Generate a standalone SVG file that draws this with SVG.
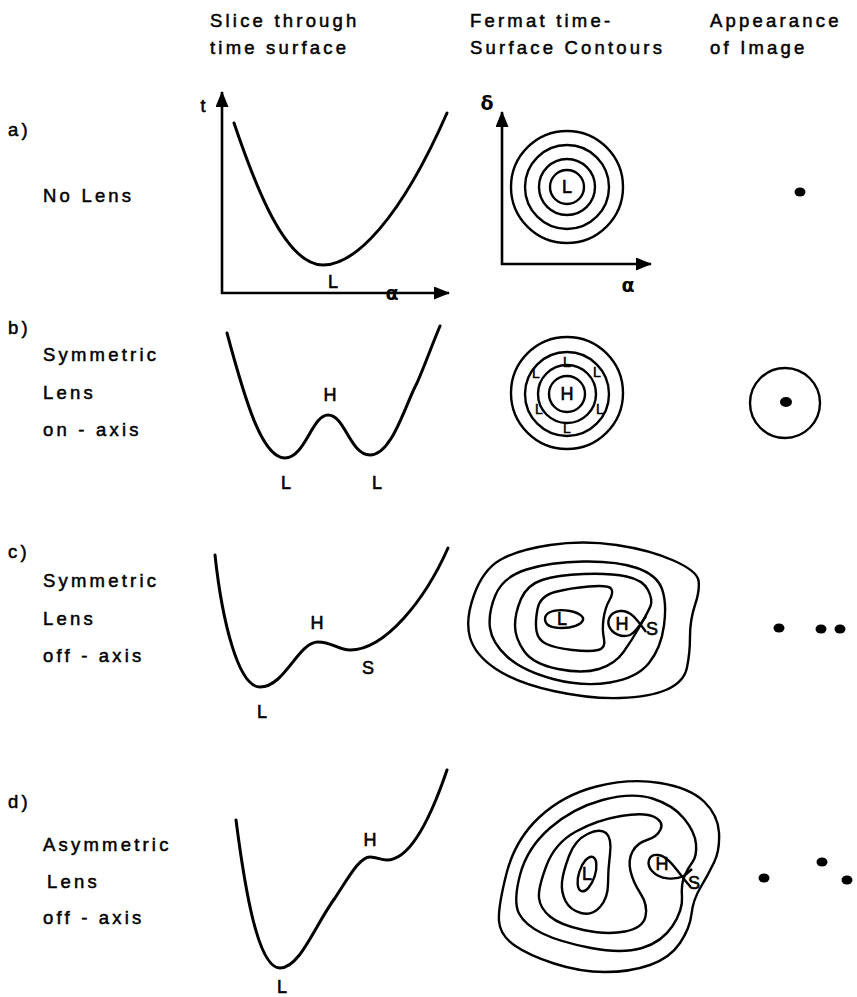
<svg xmlns="http://www.w3.org/2000/svg" width="857" height="997" viewBox="0 0 857 997">
<style>
.t{font-family:"Liberation Sans",Arial,sans-serif;font-size:18.5px;letter-spacing:3.2px;fill:#000;stroke:#000;stroke-width:0.5}
.m{font-family:"Liberation Sans",Arial,sans-serif;font-size:18px;fill:#000;stroke:#000;stroke-width:0.6;text-anchor:middle}
.sm{font-family:"Liberation Sans",Arial,sans-serif;font-size:14px;fill:#000;stroke:#000;stroke-width:0.5;text-anchor:middle}
.g{font-family:"DejaVu Sans","Liberation Sans",sans-serif;font-size:19px;font-weight:bold;fill:#000;text-anchor:middle}
.c{fill:none;stroke:#000;stroke-width:3;stroke-linecap:round;stroke-linejoin:round}
.k{fill:none;stroke:#000;stroke-width:2.4;stroke-linejoin:round}
.ax{fill:none;stroke:#000;stroke-width:2.6}
.dot{fill:#000}
</style>
<defs>
<marker id="arr" markerUnits="userSpaceOnUse" markerWidth="16" markerHeight="14" refX="15" refY="6.5" orient="auto">
<path d="M0,0 L16,6.5 L0,13 Z" fill="#000"/>
</marker>
</defs>
<rect width="857" height="997" fill="#fff"/>

<g id="headers">
<text class="t" x="210" y="27">Slice through</text>
<text class="t" x="210" y="54">time surface</text>
<text class="t" x="470" y="27">Fermat time-</text>
<text class="t" x="470" y="54">Surface Contours</text>
<text class="t" x="710" y="27">Appearance</text>
<text class="t" x="710" y="54">of Image</text>
</g>

<g id="row-labels">
<text class="t" x="8" y="136">a)</text>
<text class="t" x="43" y="202">No Lens</text>
<text class="t" x="8" y="334">b)</text>
<text class="t" x="43" y="361">Symmetric</text>
<text class="t" x="43" y="399">Lens</text>
<text class="t" x="43" y="436">on - axis</text>
<text class="t" x="8" y="558">c)</text>
<text class="t" x="43" y="587">Symmetric</text>
<text class="t" x="43" y="625">Lens</text>
<text class="t" x="43" y="662">off - axis</text>
<text class="t" x="8" y="808">d)</text>
<text class="t" x="43" y="851">Asymmetric</text>
<text class="t" x="47" y="888">Lens</text>
<text class="t" x="43" y="924">off - axis</text>
</g>

<g id="a-slice">
<line class="ax" x1="222" y1="294" x2="222" y2="92" marker-end="url(#arr)"/>
<line class="ax" x1="221" y1="293" x2="449" y2="293" marker-end="url(#arr)"/>
<text class="m" x="203" y="112">t</text>
<text class="g" x="392" y="300">α</text>
<path class="c" d="M234,123 C255,185 285,265 323,265 C355,265 400,220 447,113"/>
<text class="m" x="333" y="288">L</text>
</g>

<g id="a-contours">
<line class="ax" x1="502" y1="265" x2="502" y2="112" marker-end="url(#arr)"/>
<line class="ax" x1="501" y1="264" x2="651" y2="264" marker-end="url(#arr)"/>
<text class="g" x="487" y="110">δ</text>
<text class="g" x="628" y="292">α</text>
<circle class="k" cx="567" cy="187" r="56"/>
<circle class="k" cx="567" cy="187" r="42"/>
<circle class="k" cx="567" cy="187" r="28"/>
<circle class="k" cx="567" cy="187" r="17"/>
<text class="m" x="567" y="193">L</text>
</g>

<g id="a-image">
<ellipse class="dot" cx="800" cy="192" rx="5.5" ry="4.5"/>
</g>

<g id="b-slice">
<path class="c" d="M227,333 C245,400 262,458 285,458 C305,458 312,415 328,415 C345,415 350,455 370,455 C392,455 405,405 417,383 C425,365 430,350 440,326"/>
<text class="m" x="330" y="401">H</text>
<text class="m" x="286" y="489">L</text>
<text class="m" x="377" y="489">L</text>
</g>

<g id="b-contours">
<circle class="k" cx="567" cy="393" r="56"/>
<circle class="k" cx="567" cy="394" r="42"/>
<circle class="k" cx="567" cy="394" r="29"/>
<circle class="k" cx="567" cy="394" r="18"/>
<text class="m" x="567" y="400">H</text>
<text class="sm" x="567" y="367">L</text>
<text class="sm" x="536" y="378">L</text>
<text class="sm" x="597" y="377">L</text>
<text class="sm" x="539" y="414">L</text>
<text class="sm" x="600" y="414">L</text>
<text class="sm" x="567" y="433">L</text>
</g>

<g id="b-image">
<circle class="k" cx="785" cy="403" r="35"/>
<ellipse class="dot" cx="786" cy="402" rx="6" ry="5"/>
</g>

<g id="c-slice">
<path class="c" d="M215,555 C222,620 238,687 260,687 C285,687 298,642 318,642 C332,642 338,650 350,650 C385,650 425,600 448,548"/>
<text class="m" x="317" y="629">H</text>
<text class="m" x="368" y="674">S</text>
<text class="m" x="262" y="718">L</text>
</g>

<g id="c-contours">
<path class="k" d="M474,595 Q483,570 500,560 Q517,550 550,545 Q583,540 616.5,545 Q650,550 673.5,560.5 Q697,571 698.5,580.5 Q700,590 695,605 Q690,620 690,636.5 Q690,653 687,667.5 Q684,682 667,689.5 Q650,697 620,698 Q590,699 553.5,691 Q517,683 496,669 Q475,655 470,637.5 Q465,620 474,595 Z"/>
<path class="k" d="M495.5,595 Q503,577 526.5,569.5 Q550,562 583.5,561.5 Q617,561 637,568 Q657,575 662,589 Q667,603 664,625.5 Q661,648 649,663 Q637,678 610,682.5 Q583,687 553,679 Q523,671 507.5,657 Q492,643 490,628 Q488,613 495.5,595 Z"/>
<path class="k" d="M521,599 Q527,585 542,580 Q557,575 583.5,574 Q610,573 626.5,576.5 Q643,580 648,590 Q653,600 650.5,606 Q648,612 640,626 Q632,640 623.5,652 Q615,664 599,669 Q583,674 558,669 Q533,664 524,651 Q515,638 515,625.5 Q515,613 521,599 Z"/>
<path class="k" d="M537.5,609 Q540,596 555,592 Q570,588 589,586.5 Q608,585 611,588.5 Q614,592 609.5,600 Q605,608 603.5,619 Q602,630 604,639 Q606,648 598,650 Q590,652 572.5,650 Q555,648 546.5,644 Q538,640 536.5,631 Q535,622 537.5,609 Z"/>
<path class="k" d="M545,619 C545,610 560,609 570,611 C580,613 584,617 583,620 C581,625 572,628 562,628 C551,628 545,625 545,619 Z"/>
<path class="k" d="M646,632 C636,618 630,610 620,611 C610,612 607,620 609,626 C612,634 622,638 630,635 C636,632 640,625 646,616"/>
<text class="m" x="562" y="625">L</text>
<text class="m" x="622" y="630">H</text>
<text class="m" x="652" y="635">S</text>
</g>

<g id="c-image">
<ellipse class="dot" cx="779" cy="628" rx="5.5" ry="4.5"/>
<ellipse class="dot" cx="821" cy="629" rx="5.5" ry="4.5"/>
<ellipse class="dot" cx="840" cy="629" rx="5.5" ry="4.5"/>
</g>

<g id="d-slice">
<path class="c" d="M236,820 C245,890 258,968 280,968 C300,968 315,925 335,898 C350,875 360,857 370,857 C378,857 380,860 387,860 C410,860 430,820 447,770"/>
<text class="m" x="370" y="846">H</text>
<text class="m" x="282" y="993">L</text>
</g>

<g id="d-contours">
<path class="k" d="M506.5,873.5 Q515,840 539,817.5 Q563,795 596.5,786.5 Q630,778 660,783 Q690,788 704,801.5 Q718,815 719,832.5 Q720,850 714,862.5 Q708,875 700.5,887.5 Q693,900 691.5,914 Q690,928 680,943 Q670,958 650,965 Q630,972 605,972 Q580,972 554,963.5 Q528,955 514,945 Q500,935 499,921 Q498,907 506.5,873.5 Z"/>
<path class="k" d="M520,875 Q527,848 550,828 Q573,808 602.5,800 Q632,792 652.5,798.5 Q673,805 684,818.5 Q695,832 696,844 Q697,856 692.5,862 Q688,868 684.5,876 Q681,884 682,897 Q683,910 672.5,926 Q662,942 642,948 Q622,954 591,948 Q560,942 542.5,933.5 Q525,925 519,913.5 Q513,902 520,875 Z"/>
<path class="k" d="M546.5,865.5 Q555,843 576,831.5 Q597,820 621,816 Q645,812 654.5,817 Q664,822 660.5,829.5 Q657,837 647,840 Q637,843 632.5,851.5 Q628,860 630.5,871 Q633,882 640.5,893.5 Q648,905 645.5,916.5 Q643,928 625,931.5 Q607,935 583.5,930 Q560,925 550,916.5 Q540,908 539,898 Q538,888 546.5,865.5 Z"/>
<path class="k" d="M569,856 Q575,840 587.5,834 Q600,828 606,833 Q612,838 610,854 Q608,870 608,884 Q608,898 600,907 Q592,916 581,913 Q570,910 565.5,901 Q561,892 562,882 Q563,872 569,856 Z"/>
<ellipse class="k" cx="587" cy="874" rx="8" ry="18" transform="rotate(18 587 874)"/>
<path class="k" d="M690,886 C680,876 670,856 658,855 C648,854 646,864 652,871 C660,880 675,880 684,876 L692,869"/>
<text class="m" x="587" y="880">L</text>
<text class="m" x="662" y="870">H</text>
<text class="m" x="694" y="889">S</text>
</g>

<g id="d-image">
<ellipse class="dot" cx="764" cy="878" rx="5.5" ry="4.5"/>
<ellipse class="dot" cx="822" cy="862" rx="5.5" ry="4.5"/>
<ellipse class="dot" cx="847" cy="880" rx="5.5" ry="4.5"/>
</g>
</svg>
